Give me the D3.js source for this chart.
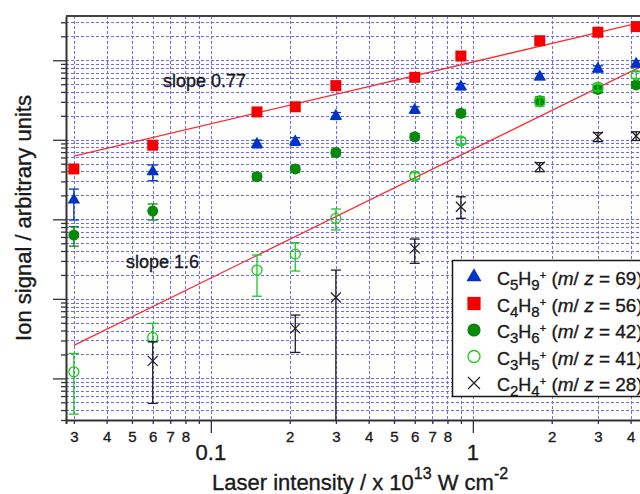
<!doctype html>
<html>
<head>
<meta charset="utf-8">
<title>Ion signal vs laser intensity</title>
<script src="https://cdn.jsdelivr.net/npm/d3@7"></script>
<style>
  body { margin: 0; background: #fff; overflow: hidden; }
  text { font-family: "Liberation Sans", Arial, sans-serif; fill: #1a1a1a; stroke: #1a1a1a; stroke-width: 0.35; }
</style>
</head>
<body>
<script>
// laser intensity (x 10^13 W cm^-2)
const intensity = [0.03, 0.06, 0.15, 0.21, 0.3, 0.6, 0.9, 1.8, 3.0, 4.2];

// C5H9+ (m/z = 69)
const c5h9 = [175, 397, 885, 950, 1990, 2370, 4650, 6200, 7800, 9000];
const c5h9Lo = [98, 306, 790, 850, 1800, 2150, 4250, 5700, 7100, 8200];
const c5h9Hi = [240, 482, 990, 1060, 2200, 2600, 5100, 6800, 8500, 9900];

// C4H8+ (m/z = 56)
const c4h8 = [430, 855, 2240, 2600, 4800, 6100, 11300, 17600, 22500, 26500];

// C3H6+ (m/z = 42)
const c3h6 = [63.5, 127, 344, 430, 690, 1090, 2150, 3100, 4300, 4900];
const c3h6Lo = [46, 98, 310, 390, 625, 990, 1950, 2800, 3900, 4450];
const c3h6Hi = [81, 156, 380, 475, 760, 1200, 2370, 3450, 4750, 5400];

// C3H5+ (m/z = 41)
const c3h5 = [1.21, 3.28, 23.0, 36.6, 103, 351, 966, 3000, 4600, 6500];
const c3h5Lo = [0.356, 2.89, 10.8, 22.4, 73.5, 320, 880, 2650, 4150, 5900];
const c3h5Hi = [2.06, 4.92, 35.6, 50.8, 135, 385, 1060, 3400, 5050, 7200];

// C2H4+ (m/z = 28)
const c2h4Intensity = [0.06, 0.21, 0.3, 0.6, 0.9, 1.8, 3.0, 4.2];
const c2h4 = [1.66, 4.26, 10.4, 43.2, 144, 459, 1094, 1117];
const c2h4Lo = [0.485, 2.12, 0.1, 28.0, 103, 397, 947, 980];
const c2h4Hi = [2.89, 6.26, 23.0, 56.5, 192, 515, 1228, 1260];

// power-law fits, end points
const fitHigh = [[0.03, 625], [5, 33100]];
const fitLow = [[0.03, 2.6], [5, 10300]];
const fitLabels = ['slope 0.77', 'slope 1.6'];

// axis labels
const xDigitTicks = [0.03, 0.04, 0.05, 0.06, 0.07, 0.08, 0.2, 0.3, 0.4, 0.5, 0.6, 0.7, 0.8, 2, 3, 4];
const xDecadeTicks = [0.1, 1];
const xDecadeLabels = ['0.1', '1'];

const legendFormula = [['C', '5', 'H', '9'], ['C', '4', 'H', '8'], ['C', '3', 'H', '6'], ['C', '3', 'H', '5'], ['C', '2', 'H', '4']];
const legendMz = [69, 56, 42, 41, 28];

const svg = d3.select('body').append('svg')
    .attr('width', 640)
    .attr('height', 494);

const pLeft = 66, pRight = 656, pTop = 16, pBottom = 420;

const x = d3.scaleLog().domain([0.028, 5]).range([pLeft, pRight]);
const y = d3.scaleLog().domain([0.3, 36000]).range([pBottom, pTop]);

const near = (a, b) => Math.abs(a - b) < 1e-9 * Math.max(1, b);
const isDecade = d => Math.abs(Math.log10(d) - Math.round(Math.log10(d))) < 1e-6;

svg.append('clipPath').attr('id', 'plot')
  .append('rect')
    .attr('x', pLeft).attr('y', pTop)
    .attr('width', pRight - pLeft).attr('height', pBottom - pTop);

// grid
const grid = svg.append('g')
    .attr('stroke', '#6c6cff')
    .attr('stroke-width', 1)
    .attr('stroke-dasharray', '3,2');
grid.selectAll('.gx')
  .data(x.ticks().filter(d => x(d) > pLeft + 1))
  .enter().append('line')
    .attr('x1', d => Math.round(x(d)) + 0.5).attr('x2', d => Math.round(x(d)) + 0.5)
    .attr('y1', pTop).attr('y2', pBottom);
grid.selectAll('.gy')
  .data(y.ticks().filter(d => y(d) < pBottom - 1 && y(d) > pTop + 1))
  .enter().append('line')
    .attr('y1', d => Math.round(y(d)) + 0.5).attr('y2', d => Math.round(y(d)) + 0.5)
    .attr('x1', pLeft).attr('x2', pRight);

// x axis
const xAxis = d3.axisBottom(x)
    .tickValues(x.ticks())
    .tickSizeOuter(0)
    .tickSize(4)
    .tickPadding(7)
    .tickFormat(d => xDigitTicks.some(v => near(d, v)) ? String(Math.round(d / Math.pow(10, Math.floor(Math.log10(d) + 1e-9)))) : '');
const gx = svg.append('g')
    .attr('transform', `translate(0,${pBottom})`)
    .call(xAxis);
gx.select('.domain').attr('stroke', '#333').attr('stroke-width', 2);
gx.selectAll('.tick line').attr('stroke', '#333').attr('stroke-width', 1.3)
    .attr('y2', d => isDecade(d) ? 13 : 4);
gx.selectAll('.tick text').attr('font-size', 15).attr('font-family', null).attr('fill', '#1a1a1a');

svg.selectAll('.decade')
  .data(xDecadeTicks)
  .enter().append('text')
    .attr('x', d => x(d))
    .attr('y', 460)
    .attr('text-anchor', 'middle')
    .attr('font-size', 22)
    .text((d, i) => xDecadeLabels[i]);

// y axis
const yAxis = d3.axisLeft(y)
    .tickValues(y.ticks())
    .tickSizeOuter(0)
    .tickFormat('');
const gy = svg.append('g')
    .attr('transform', `translate(${pLeft},0)`)
    .call(yAxis);
gy.select('.domain').attr('stroke', '#333').attr('stroke-width', 2);
gy.selectAll('.tick line').attr('stroke', '#333').attr('stroke-width', 1.3)
    .attr('x2', d => isDecade(d) ? -13 : -5);

// top frame
svg.append('line')
    .attr('x1', pLeft).attr('x2', pRight)
    .attr('y1', pTop).attr('y2', pTop)
    .attr('stroke', '#444').attr('stroke-width', 2);

// fit lines
const plotArea = svg.append('g').attr('clip-path', 'url(#plot)');
const linePath = d3.line().x(d => x(d[0])).y(d => y(d[1]));
plotArea.selectAll('.fit')
  .data([fitHigh, fitLow])
  .enter().append('path')
    .attr('d', linePath)
    .attr('fill', 'none')
    .attr('stroke', '#ff2b2b')
    .attr('stroke-width', 1.3);

// series
const series = [
  {xs: intensity, ys: c5h9, lo: c5h9Lo, hi: c5h9Hi, shape: 'triangle', color: '#0033c8'},
  {xs: intensity, ys: c4h8, lo: null, hi: null, shape: 'square', color: '#f50000'},
  {xs: intensity, ys: c3h6, lo: c3h6Lo, hi: c3h6Hi, shape: 'circle', color: '#088a08'},
  {xs: intensity, ys: c3h5, lo: c3h5Lo, hi: c3h5Hi, shape: 'open', color: '#1ec81e'},
  {xs: c2h4Intensity, ys: c2h4, lo: c2h4Lo, hi: c2h4Hi, shape: 'cross', color: '#1e1e1e'}
];

function drawMarker(g, shape, color, s) {
  if (shape === 'triangle') {
    g.append('path').attr('d', d3.symbol(d3.symbolTriangle, 68 * s * s)()).attr('fill', color);
  } else if (shape === 'square') {
    g.append('path').attr('d', d3.symbol(d3.symbolSquare, 121 * s * s)()).attr('fill', color);
  } else if (shape === 'circle') {
    g.append('circle').attr('r', 5.5 * s).attr('fill', color);
  } else if (shape === 'open') {
    g.append('circle').attr('r', 5 * s).attr('fill', 'none').attr('stroke', color).attr('stroke-width', 1.3);
  } else {
    const r = 5 * s;
    g.append('path').attr('d', `M${-r},${-r}L${r},${r}M${-r},${r}L${r},${-r}`)
      .attr('stroke', color).attr('stroke-width', 1.2).attr('fill', 'none');
  }
}

series.forEach(s => {
  const pts = s.xs.map((v, i) => ({x: v, y: s.ys[i], lo: s.lo ? s.lo[i] : null, hi: s.hi ? s.hi[i] : null}));
  const g = plotArea.append('g');
  if (s.lo) {
    const eb = g.append('g').attr('stroke', s.color).attr('stroke-width', 1.3);
    pts.forEach(p => {
      const cx = x(p.x);
      eb.append('line').attr('x1', cx).attr('x2', cx).attr('y1', y(p.lo)).attr('y2', y(p.hi));
      eb.append('line').attr('x1', cx - 5).attr('x2', cx + 5).attr('y1', y(p.lo)).attr('y2', y(p.lo));
      eb.append('line').attr('x1', cx - 5).attr('x2', cx + 5).attr('y1', y(p.hi)).attr('y2', y(p.hi));
    });
  }
  pts.forEach(p => {
    const m = g.append('g').attr('transform', `translate(${x(p.x)},${y(p.y)})`);
    drawMarker(m, s.shape, s.color, 1);
  });
});

// fit labels
svg.append('text').attr('x', 163).attr('y', 87).attr('font-size', 18).text(fitLabels[0]);
svg.append('text').attr('x', 126).attr('y', 268).attr('font-size', 18).text(fitLabels[1]);

// legend
const lg = svg.append('g');
lg.append('rect')
    .attr('x', 452.5).attr('y', 260.5)
    .attr('width', 220).attr('height', 136)
    .attr('fill', '#fff')
    .attr('stroke', '#1a1a1a').attr('stroke-width', 1.5);
series.forEach((s, i) => {
  const ry = 277 + i * 26.5;
  const m = lg.append('g').attr('transform', `translate(474,${ry})`);
  drawMarker(m, s.shape, s.color, 1.2);
  const f = legendFormula[i];
  const t = lg.append('text').attr('x', 497).attr('y', ry + 8).attr('font-size', 18);
  t.append('tspan').text(f[0]);
  t.append('tspan').attr('dy', 5).attr('font-size', 15).text(f[1]);
  t.append('tspan').attr('dy', -5).text(f[2]);
  t.append('tspan').attr('dy', 5).attr('font-size', 15).text(f[3]);
  t.append('tspan').attr('dy', -11).attr('font-size', 11).text('+');
  t.append('tspan').attr('dy', 6).attr('font-size', 19).text(' (');
  t.append('tspan').attr('font-size', 19).attr('font-style', 'italic').text('m');
  t.append('tspan').attr('font-size', 19).text('/ ');
  t.append('tspan').attr('font-size', 19).attr('font-style', 'italic').text('z');
  t.append('tspan').attr('font-size', 19).text(` = ${legendMz[i]})`);
});

// axis titles
const xt = svg.append('text').attr('x', 212).attr('y', 490).attr('font-size', 22);
xt.append('tspan').text('Laser intensity / x 10');
xt.append('tspan').attr('dy', -11).attr('font-size', 16).text('13');
xt.append('tspan').attr('dy', 11).text(' W cm');
xt.append('tspan').attr('dy', -11).attr('font-size', 16).text('-2');

svg.append('text')
    .attr('transform', 'translate(31,218) rotate(-90)')
    .attr('text-anchor', 'middle')
    .attr('font-size', 22)
    .text('Ion signal / arbitrary units');
</script>
</body>
</html>
